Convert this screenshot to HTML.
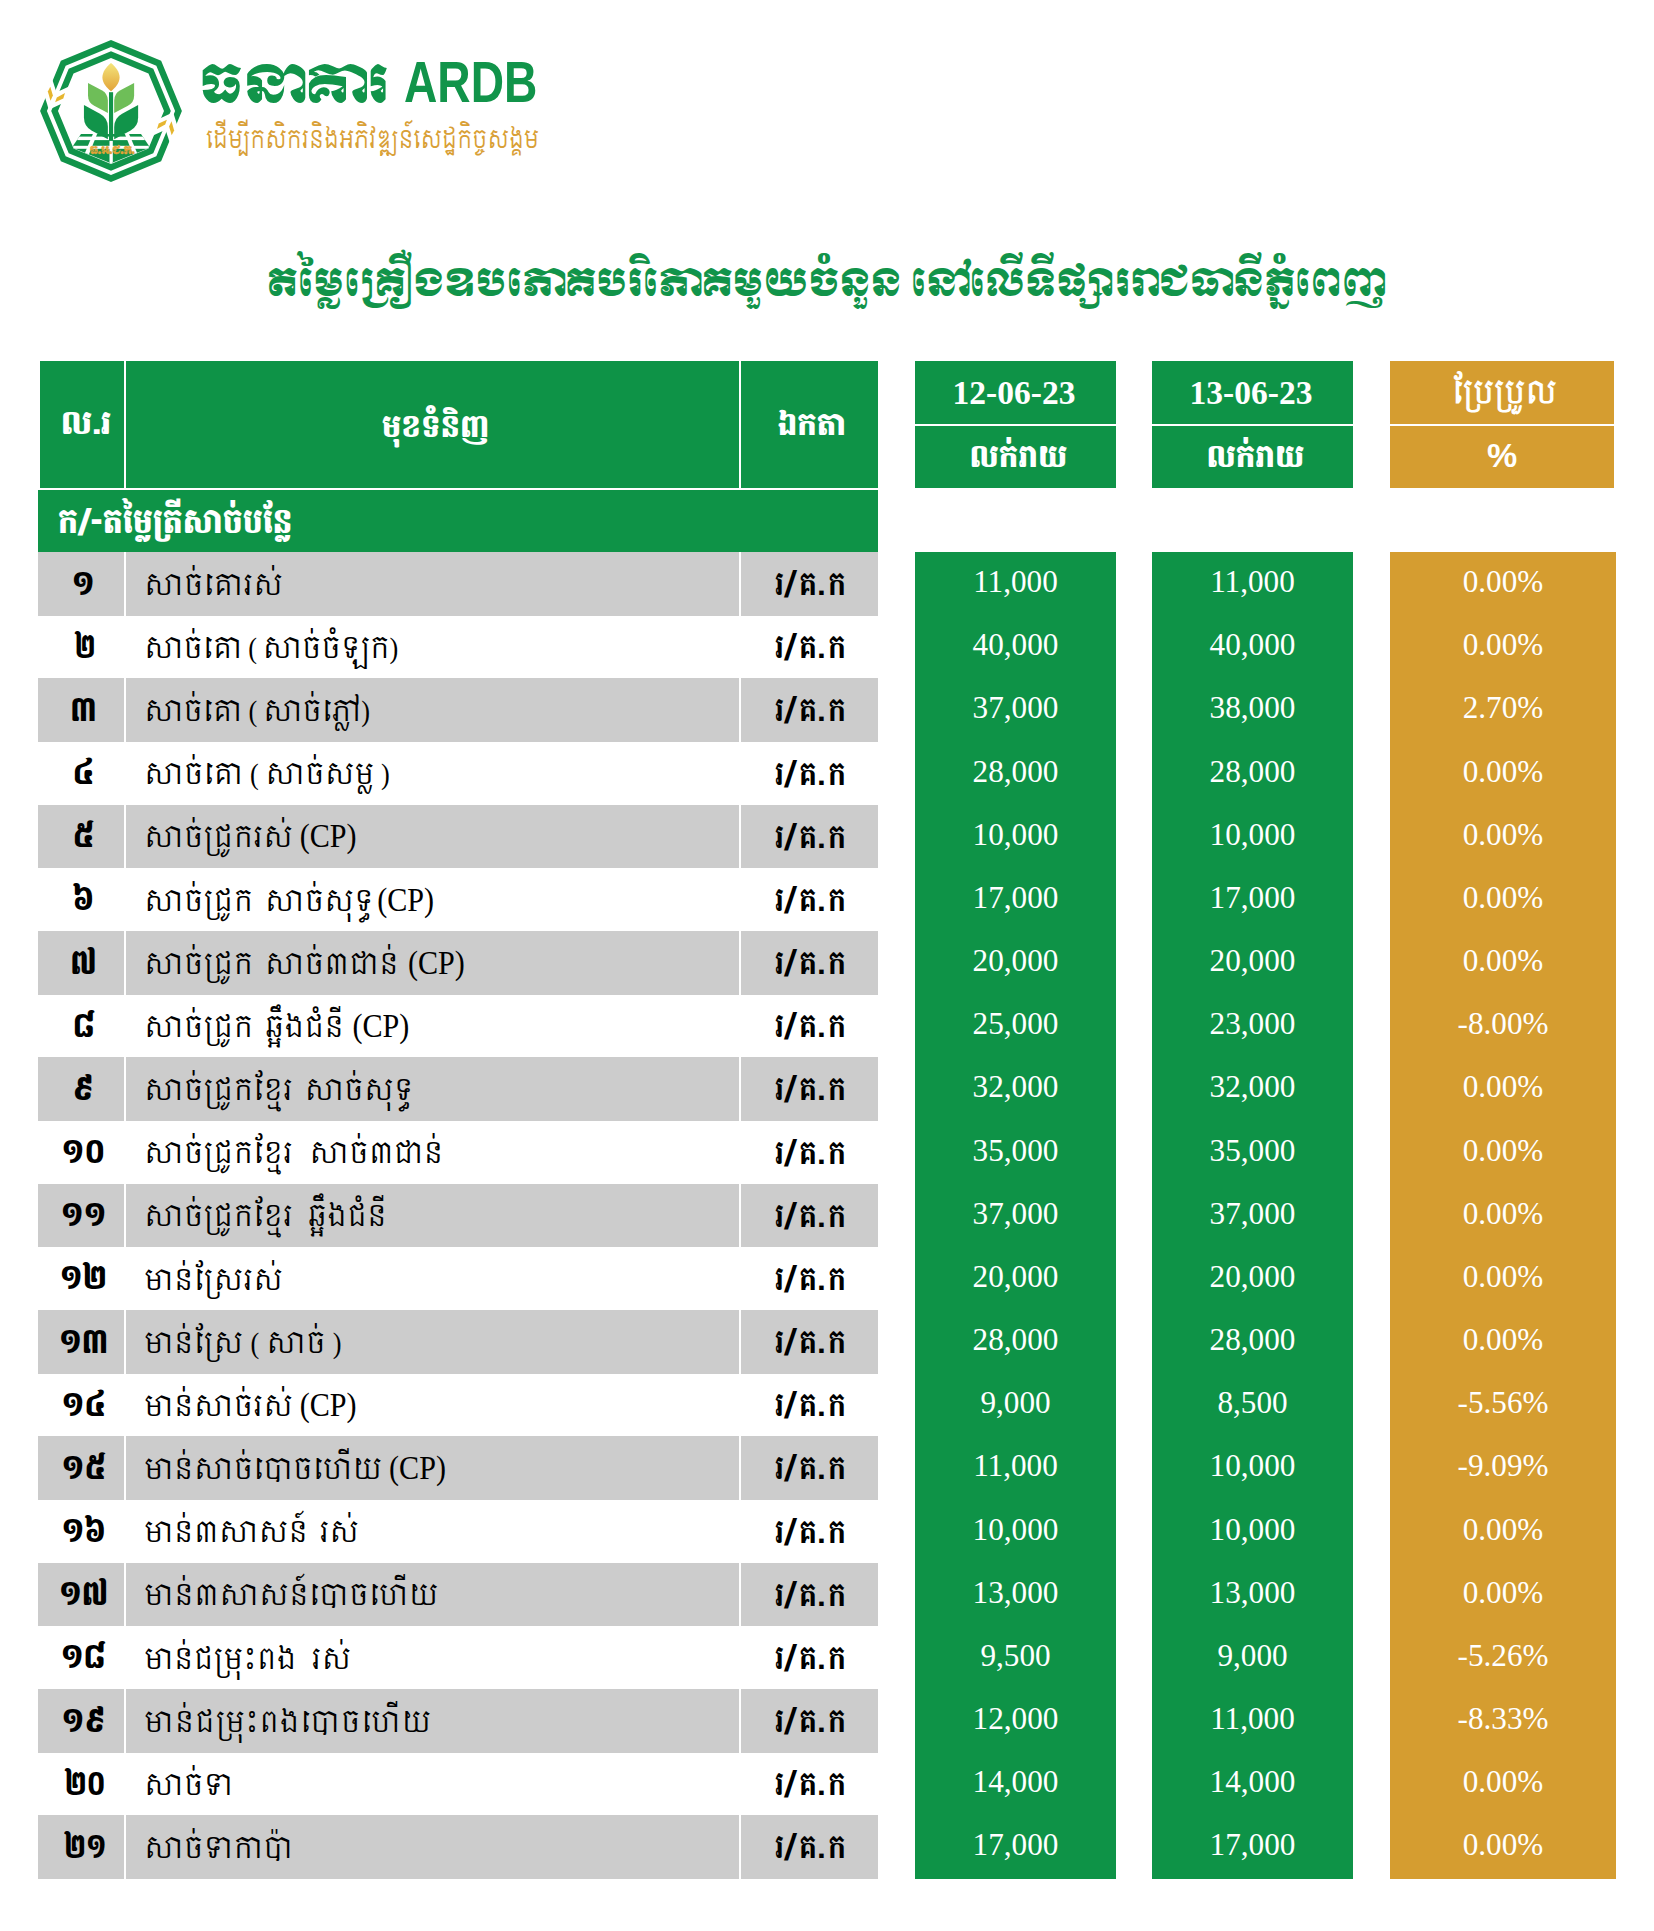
<!DOCTYPE html>
<html lang="km">
<head>
<meta charset="utf-8">
<title>ARDB</title>
<style>
html,body{margin:0;padding:0;background:#fff;}
body{width:1654px;height:1931px;position:relative;overflow:hidden;
 font-family:"Liberation Serif","Khmer OS","Khmer","Khmer OS Content","Content","Noto Serif Khmer","Noto Sans Khmer","Hanuman",serif;color:#000;}
.abs{position:absolute;}
.kh{font-family:"Liberation Serif","Khmer OS","Khmer","Khmer OS Content","Content","Noto Serif Khmer","Noto Sans Khmer","Hanuman",serif;}
.kb{font-family:"Khmer OS Battambang","Battambang","Hanuman","Khmer OS Content","Content","Noto Serif Khmer","Noto Sans Khmer","Khmer OS","Khmer","Liberation Sans",sans-serif;font-weight:900;}
.sx{display:inline-block;transform:scaleX(.95);transform-origin:50% 50%;}
.moul{font-family:"Khmer OS Muol Light","Khmer OS Muol","Moul","Liberation Serif","Noto Serif Khmer","Noto Sans Khmer",serif;}
.G{background:#0e9347;}
.O{background:#d59d30;}
.hd{position:absolute;color:#fff;text-align:center;white-space:nowrap;overflow:hidden;}
.row{position:absolute;left:0;width:1654px;height:63.5px;white-space:nowrap;}
.row .c{position:absolute;top:0;height:63.5px;line-height:63.6px;overflow:hidden;white-space:nowrap;}
.row.g .n,.row.g .nm,.row.g .u{background:#cccccc;}
.n{left:38px;width:86px;text-align:center;font-weight:900;font-size:34px;font-family:"Khmer OS Battambang","Battambang","Hanuman","Khmer OS Content","Content","Noto Serif Khmer","Noto Sans Khmer","Khmer OS","Khmer","Liberation Sans",sans-serif;}
.n span{display:inline-block;transform:scaleX(.86);transform-origin:50% 50%;position:relative;left:2.5px;top:.5px}
.nm{left:126px;width:613px;font-size:30px;}
.nm span{display:inline-block;transform:scaleX(.875);transform-origin:0 50%;margin-left:18px;word-spacing:5.5px;position:relative;top:.7px;}
.nm b{font-weight:normal;font-size:34.4px;word-spacing:-1px;line-height:10px;}
.u{left:741px;width:137px;text-align:center;font-size:34.5px;font-weight:700;word-spacing:-9px;font-family:"Khmer OS Battambang","Battambang","Hanuman","Khmer OS Content","Content","Noto Serif Khmer","Noto Sans Khmer","Khmer OS","Khmer","Liberation Sans",sans-serif;}
.u span{display:inline-block;transform:scaleX(.9);transform-origin:50% 50%;position:relative;left:1.5px;top:1px}
.p1,.p2,.p3{color:#fff;text-align:center;font-size:31.2px;font-family:"Liberation Serif",serif;height:64.2px !important;line-height:59.6px !important;}
.p1{left:915px;width:201px;}
.p2{left:1152px;width:201px;}
.p3{left:1390px;width:226px;}
</style>
</head>
<body>
<!-- logo -->
<svg class="abs" style="left:30px;top:30px" width="162" height="162" viewBox="-81 -81 162 162">
 <defs>
  <linearGradient id="gr" x1="0" y1="0" x2="0" y2="1"><stop offset="0" stop-color="#f4e57c"/><stop offset="1" stop-color="#e2a338"/></linearGradient>
 </defs>
 <path fill="#11944a" fill-rule="evenodd" d="M70.90,0.00 L50.13,50.13 L0.00,70.90 L-50.13,50.13 L-70.90,0.00 L-50.13,-50.13 L-0.00,-70.90 L50.13,-50.13 Z M64.10,0.00 L45.33,45.33 L0.00,64.10 L-45.33,45.33 L-64.10,0.00 L-45.33,-45.33 L-0.00,-64.10 L45.33,-45.33 Z"/>
 <path fill="#11944a" fill-rule="evenodd" d="M59.80,0.00 L42.28,42.28 L0.00,59.80 L-42.28,42.28 L-59.80,0.00 L-42.28,-42.28 L-0.00,-59.80 L42.28,-42.28 Z M53.00,0.00 L37.48,37.48 L0.00,53.00 L-37.48,37.48 L-53.00,0.00 L-37.48,-37.48 L-0.00,-53.00 L37.48,-37.48 Z"/>
 <g id="cut">
  <polygon fill="#fff" points="-58.9,-31.9 -54.7,-19.2 -62.4,-2.0 -66.3,-14.5"/>
  <polygon fill="#fff" points="-52.4,-19.85 -41.4,-24.8 -48.9,-7.4 -60.6,-2.0"/>
  <polygon fill="#e6b62f" points="-60.7,-24.2 -58.1,-15.5 -60.5,-10.2 -63.15,-19.4"/>
  <polygon fill="#e6b62f" points="-55.9,-8.7 -54.2,-13.6 -46,-17.9 -47.7,-12.6"/>
 </g>
 <use href="#cut" transform="rotate(180)"/>
 <!-- field -->
 <clipPath id="fc"><polygon points="-30,23 30,23 37.9,34.8 36.8,37.4 0,52.2 -36.8,37.4 -37.9,34.8"/></clipPath>
 <polygon fill="#11944a" points="-30,23 30,23 37.9,34.8 36.8,37.4 0,52.2 -36.8,37.4 -37.9,34.8"/>
 <g fill="#fff" clip-path="url(#fc)">
  <rect x="-45" y="25.6" width="90" height="3.5"/>
  <rect x="-45" y="34.8" width="90" height="3"/>
  <rect x="-1.5" y="29" width="3.3" height="24"/>
  <polygon points="-18.1,23 -13.9,23 -23.5,47 -28.2,47"/>
  <polygon points="18.1,23 13.9,23 23.5,47 28.2,47"/>
 </g>
 <!-- stem -->
 <rect x="-2" y="-18.8" width="4.1" height="48.7" fill="#11944a"/>
 <!-- grain -->
 <path fill="url(#gr)" d="M0,-48 C5,-44 8.6,-39 8.6,-33.5 C8.6,-28 4,-23 0,-19.8 C-4,-23 -8.6,-28 -8.6,-33.5 C-8.6,-39 -5,-44 0,-48 Z"/>
 <!-- leaves -->
 <g id="lv">
  <path fill="#6ebe58" d="M-23,-28.1 L-9.29,-20.87 Q-3.1,-17.6 -3.1,-10.6 L-3.1,1.9 L-16.81,-5.33 Q-23,-8.6 -23,-15.6 Z"/>
  <path fill="#11944a" d="M-27.04,-6 L-11.02,2.63 Q-3.1,6.9 -3.1,15.9 L-3.1,28.3 L-19.12,19.67 Q-27.04,15.4 -27.04,6.4 Z"/>
 </g>
 <use href="#lv" transform="scale(-1,1) translate(-0.1,0)"/>
 <text x="1.2" y="42.6" text-anchor="middle" font-family="'Khmer OS Muol Light','Khmer OS Muol','Moul','Noto Serif Khmer','Noto Sans Khmer','Liberation Serif',serif" font-size="11" fill="#e2a336" stroke="#e2a336" stroke-width=".35" textLength="45" lengthAdjust="spacingAndGlyphs">ធ.អ.ជ.ក.</text>
</svg>
<div class="abs moul" style="left:199px;top:45.5px;font-size:53.6px;line-height:80px;color:#11944a;white-space:nowrap;transform-origin:0 50%;transform:scaleX(.944);">ធនាគារ</div>
<div class="abs" style="left:403.5px;top:42px;font-family:'Liberation Sans',sans-serif;font-weight:bold;font-size:57.5px;line-height:80px;color:#11944a;transform-origin:0 50%;transform:scaleX(0.803);white-space:nowrap;">ARDB</div>
<div class="abs" style="left:205.5px;top:115.5px;font-family:'Khmer OS Siemreap','Siemreap','Khmer OS Content','Content','Khmer OS','Khmer','Noto Serif Khmer','Noto Sans Khmer','Liberation Serif',serif;font-size:24px;line-height:50px;color:#d9a036;white-space:nowrap;transform-origin:0 50%;transform:scaleX(.92);">ដើម្បីកសិករនិងអភិវឌ្ឍន៍សេដ្ឋកិច្ចសង្គម</div>

<!-- title -->
<div class="abs moul" style="left:0;top:239px;width:1654px;text-align:center;font-size:38px;line-height:90px;color:#11944a;white-space:nowrap;transform:scaleX(.93);">តម្លៃគ្រឿងឧបភោគបរិភោគមួយចំនួន នៅលើទីផ្សាររាជធានីភ្នំពេញ</div>

<!-- header -->
<div class="hd G kb" style="left:40px;top:361px;width:84px;height:127px;line-height:127px;font-size:33px;"><span class="sx" style="transform:scaleX(1);position:relative;left:4px;top:-1px">ល.រ</span></div>
<div class="hd G kb" style="left:126px;top:361px;width:613px;height:127px;line-height:127px;font-size:32.4px;"><span class="sx" style="position:relative;left:3.5px;top:2px">មុខទំនិញ</span></div>
<div class="hd G kb" style="left:741px;top:361px;width:137px;height:127px;line-height:127px;font-size:32.4px;"><span class="sx" style="position:relative;left:2.5px;">ឯកតា</span></div>
<div class="hd G kb" style="left:38px;top:490px;width:840px;height:62px;line-height:62px;font-size:35px;text-align:left;"><span class="sx" style="transform-origin:0 50%;margin-left:20px;transform:scaleX(.9);position:relative;top:1px">ក/-តម្លៃត្រីសាច់បន្លែ</span></div>

<div class="hd G" style="left:915px;top:361px;width:201px;height:63px;line-height:63px;font-size:33.5px;font-weight:bold;font-family:'Liberation Serif',serif;text-indent:-3px">12-06-23</div>
<div class="hd G kb" style="left:915px;top:426px;width:201px;height:62px;line-height:62px;font-size:32.4px;"><span class="sx" style="position:relative;left:3px;">លក់រាយ</span></div>
<div class="hd G" style="left:1152px;top:361px;width:201px;height:63px;line-height:63px;font-size:33.5px;font-weight:bold;font-family:'Liberation Serif',serif;text-indent:-3px">13-06-23</div>
<div class="hd G kb" style="left:1152px;top:426px;width:201px;height:62px;line-height:62px;font-size:32.4px;"><span class="sx" style="position:relative;left:3px;">លក់រាយ</span></div>
<div class="hd O kh" style="left:1390px;top:361px;width:224px;height:63px;line-height:63px;font-size:31.5px;font-weight:700;"><span class="sx" style="transform:scaleX(.88);position:relative;left:3px;top:0px">ប្រែប្រួល</span></div>
<div class="hd O" style="left:1390px;top:426px;width:224px;height:62px;line-height:62px;font-size:34px;font-weight:bold;font-family:'Liberation Sans',sans-serif;line-height:59px">%</div>

<!-- column backgrounds -->
<div class="abs G" style="left:915px;top:552px;width:201px;height:1326.7px;"></div>
<div class="abs G" style="left:1152px;top:552px;width:201px;height:1326.7px;"></div>
<div class="abs O" style="left:1390px;top:552px;width:226px;height:1326.7px;"></div>
<!-- rows -->
<div class="row g" style="top:552.00px"><div class="c n"><span>១</span></div><div class="c nm"><span>សាច់គោរស់</span></div><div class="c u"><span>រ/ គ. ក</span></div><div class="c p1">11,000</div><div class="c p2">11,000</div><div class="c p3">0.00%</div></div>
<div class="row" style="top:615.17px"><div class="c n"><span style="transform:scaleX(.74);left:4.3px">២</span></div><div class="c nm"><span><u style="text-decoration:none;word-spacing:0;letter-spacing:-.5px">សាច់គោ ( សាច់ចំឡក)</u></span></div><div class="c u"><span>រ/ គ. ក</span></div><div class="c p1">40,000</div><div class="c p2">40,000</div><div class="c p3">0.00%</div></div>
<div class="row g" style="top:678.34px"><div class="c n"><span>៣</span></div><div class="c nm"><span><u style="text-decoration:none;word-spacing:0;letter-spacing:-.42px">សាច់គោ ( សាច់ភ្លៅ)</u></span></div><div class="c u"><span>រ/ គ. ក</span></div><div class="c p1">37,000</div><div class="c p2">38,000</div><div class="c p3">2.70%</div></div>
<div class="row" style="top:741.51px"><div class="c n"><span>៤</span></div><div class="c nm"><span><u style="text-decoration:none;word-spacing:0px">សាច់គោ ( សាច់សម្ល )</u></span></div><div class="c u"><span>រ/ គ. ក</span></div><div class="c p1">28,000</div><div class="c p2">28,000</div><div class="c p3">0.00%</div></div>
<div class="row g" style="top:804.68px"><div class="c n"><span>៥</span></div><div class="c nm"><span>សាច់ជ្រូករស់<b> (CP)</b></span></div><div class="c u"><span>រ/ គ. ក</span></div><div class="c p1">10,000</div><div class="c p2">10,000</div><div class="c p3">0.00%</div></div>
<div class="row" style="top:867.85px"><div class="c n"><span>៦</span></div><div class="c nm"><span>សាច់ជ្រូក សាច់សុទ្ធ<b style="margin-left:-3.8px"> (CP)</b></span></div><div class="c u"><span>រ/ គ. ក</span></div><div class="c p1">17,000</div><div class="c p2">17,000</div><div class="c p3">0.00%</div></div>
<div class="row g" style="top:931.02px"><div class="c n"><span>៧</span></div><div class="c nm"><span>សាច់ជ្រូក សាច់៣ជាន់<b style="margin-left:2.7px"> (CP)</b></span></div><div class="c u"><span>រ/ គ. ក</span></div><div class="c p1">20,000</div><div class="c p2">20,000</div><div class="c p3">0.00%</div></div>
<div class="row" style="top:994.19px"><div class="c n"><span>៨</span></div><div class="c nm"><span>សាច់ជ្រូក ឆ្អឹងជំនី<b style="margin-left:2px"> (CP)</b></span></div><div class="c u"><span>រ/ គ. ក</span></div><div class="c p1">25,000</div><div class="c p2">23,000</div><div class="c p3">-8.00%</div></div>
<div class="row g" style="top:1057.36px"><div class="c n"><span>៩</span></div><div class="c nm"><span>សាច់ជ្រូកខ្មែរ សាច់សុទ្ធ</span></div><div class="c u"><span>រ/ គ. ក</span></div><div class="c p1">32,000</div><div class="c p2">32,000</div><div class="c p3">0.00%</div></div>
<div class="row" style="top:1120.53px"><div class="c n"><span>១០</span></div><div class="c nm"><span><u style="text-decoration:none;word-spacing:11px">សាច់ជ្រូកខ្មែរ សាច់៣ជាន់</u></span></div><div class="c u"><span>រ/ គ. ក</span></div><div class="c p1">35,000</div><div class="c p2">35,000</div><div class="c p3">0.00%</div></div>
<div class="row g" style="top:1183.70px"><div class="c n"><span>១១</span></div><div class="c nm"><span><u style="text-decoration:none;word-spacing:9px">សាច់ជ្រូកខ្មែរ ឆ្អឹងជំនី</u></span></div><div class="c u"><span>រ/ គ. ក</span></div><div class="c p1">37,000</div><div class="c p2">37,000</div><div class="c p3">0.00%</div></div>
<div class="row" style="top:1246.87px"><div class="c n"><span>១២</span></div><div class="c nm"><span>មាន់ស្រែរស់</span></div><div class="c u"><span>រ/ គ. ក</span></div><div class="c p1">20,000</div><div class="c p2">20,000</div><div class="c p3">0.00%</div></div>
<div class="row g" style="top:1310.04px"><div class="c n"><span>១៣</span></div><div class="c nm"><span><u style="text-decoration:none;word-spacing:.55px">មាន់ស្រែ ( សាច់ )</u></span></div><div class="c u"><span>រ/ គ. ក</span></div><div class="c p1">28,000</div><div class="c p2">28,000</div><div class="c p3">0.00%</div></div>
<div class="row" style="top:1373.21px"><div class="c n"><span>១៤</span></div><div class="c nm"><span>មាន់សាច់រស់<b> (CP)</b></span></div><div class="c u"><span>រ/ គ. ក</span></div><div class="c p1">9,000</div><div class="c p2">8,500</div><div class="c p3">-5.56%</div></div>
<div class="row g" style="top:1436.38px"><div class="c n"><span>១៥</span></div><div class="c nm"><span>មាន់សាច់បោចហើយ<b> (CP)</b></span></div><div class="c u"><span>រ/ គ. ក</span></div><div class="c p1">11,000</div><div class="c p2">10,000</div><div class="c p3">-9.09%</div></div>
<div class="row" style="top:1499.55px"><div class="c n"><span>១៦</span></div><div class="c nm"><span>មាន់៣សាសន៍ រស់</span></div><div class="c u"><span>រ/ គ. ក</span></div><div class="c p1">10,000</div><div class="c p2">10,000</div><div class="c p3">0.00%</div></div>
<div class="row g" style="top:1562.72px"><div class="c n"><span>១៧</span></div><div class="c nm"><span><u style="text-decoration:none;letter-spacing:.18px">មាន់៣សាសន៍បោចហើយ</u></span></div><div class="c u"><span>រ/ គ. ក</span></div><div class="c p1">13,000</div><div class="c p2">13,000</div><div class="c p3">0.00%</div></div>
<div class="row" style="top:1625.89px"><div class="c n"><span>១៨</span></div><div class="c nm"><span><u style="text-decoration:none;word-spacing:9.7px">មាន់ជម្រុះពង រស់</u></span></div><div class="c u"><span>រ/ គ. ក</span></div><div class="c p1">9,500</div><div class="c p2">9,000</div><div class="c p3">-5.26%</div></div>
<div class="row g" style="top:1689.06px"><div class="c n"><span>១៩</span></div><div class="c nm"><span><u style="text-decoration:none;letter-spacing:.72px">មាន់ជម្រុះពងបោចហើយ</u></span></div><div class="c u"><span>រ/ គ. ក</span></div><div class="c p1">12,000</div><div class="c p2">11,000</div><div class="c p3">-8.33%</div></div>
<div class="row" style="top:1752.23px"><div class="c n"><span style="transform:scaleX(.78);left:4.3px">២០</span></div><div class="c nm"><span>សាច់ទា</span></div><div class="c u"><span>រ/ គ. ក</span></div><div class="c p1">14,000</div><div class="c p2">14,000</div><div class="c p3">0.00%</div></div>
<div class="row g" style="top:1815.40px"><div class="c n"><span style="transform:scaleX(.77);left:4.3px">២១</span></div><div class="c nm"><span>សាច់ទាកាប៉ា</span></div><div class="c u"><span>រ/ គ. ក</span></div><div class="c p1">17,000</div><div class="c p2">17,000</div><div class="c p3">0.00%</div></div>
</body>
</html>
